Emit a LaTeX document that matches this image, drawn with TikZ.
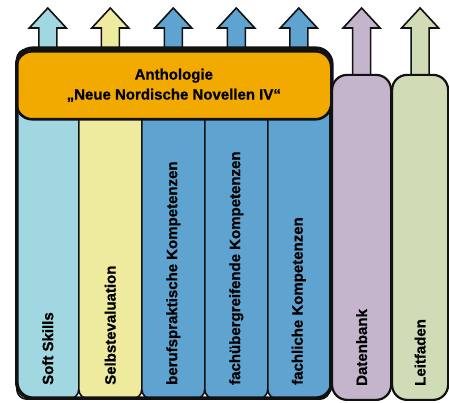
\documentclass[tikz,border=0pt]{standalone}
\usepackage{fontspec}
\setmainfont{Liberation Sans}[FakeBold=0.8]
\usepackage{xcolor}
\usetikzlibrary{positioning,calc,backgrounds}
\definecolor{ink}{HTML}{111111}
\definecolor{softfill}{HTML}{A0D7E0}
\definecolor{selbstfill}{HTML}{EEEA9E}
\definecolor{kompfill}{HTML}{5FA3D0}
\definecolor{anthfill}{HTML}{F3AA00}
\definecolor{datenfill}{HTML}{C4B4CC}
\definecolor{leitfill}{HTML}{CFDCB5}
\tikzset{
  col/.style={draw=ink, line width=1.6pt, rounded corners=10pt, inner sep=0pt, minimum height=350pt, anchor=south west},
  sidebox/.style={draw=ink, line width=2.2pt, rounded corners=15pt, inner sep=0pt, minimum height=325pt, anchor=south west},
  frame/.style={draw=ink, line width=3.6pt, rounded corners=16pt, inner sep=0pt, anchor=south west},
  header/.style={draw=ink, line width=2.6pt, rounded corners=16pt, fill=anthfill, align=center, inner sep=0pt, anchor=north west,
    font=\bfseries\fontsize{15}{20}\selectfont},
  vlabel/.style={rotate=90, anchor=west, inner sep=0pt, font=\bfseries\fontsize{15}{18}\selectfont},
  blockarrow/.style={draw=ink, line width=1.6pt, line join=miter}
}

\begin{document}
\begin{tikzpicture}[x=1pt,y=1pt]
\useasboundingbox (0,0) rectangle (449,403);
% columns of the anthology
\node[col, fill=softfill, minimum width=62pt] (soft) at (16,3) {};
\node[col, fill=selbstfill, minimum width=63pt] (selbst) at (78,3) {};
\node[col, fill=kompfill, minimum width=63pt] (beruf) at (141,3) {};
\node[col, fill=kompfill, minimum width=63pt] (fachueber) at (204,3) {};
\node[col, fill=kompfill, minimum width=62pt] (fachlich) at (267,3) {};
\node[header, minimum width=315pt, minimum height=68pt] (anth) at (15,353) {Anthologie\\„Neue Nordische Novellen IV“};
\node[frame, minimum width=315pt, minimum height=350pt] (rahmen) at (15,3) {};
% side boxes
\node[sidebox, fill=datenfill, minimum width=59pt] (daten) at (331,2) {};
\node[sidebox, fill=leitfill, minimum width=56pt] (leit) at (391,2) {};
% labels
\node[vlabel] (softlbl) at ($(soft.south)+(0,15)$) {Soft Skills};
\node[vlabel] (selbstlbl) at ($(selbst.south)+(0,15)$) {Selbstevaluation};
\node[vlabel] (berufidx) at ($(beruf.south)+(0,15)$) {berufspraktische Kompetenzen};
\node[vlabel] (fachueberlbl) at ($(fachueber.south)+(0,15)$) {fachübergreifende Kompetenzen};
\node[vlabel] (fachlichlbl) at ($(fachlich.south)+(0,15)$) {fachliche Kompetenzen};
\node[vlabel] (datenlbl) at ($(daten.south)+(0,15)$) {Datenbank};
\node[vlabel] (leitlbl) at ($(leit.south)+(0,15)$) {Leitfaden};
% arrows up
\begin{scope}[on background layer]
\foreach \nm/\c in {soft/softfill, selbst/selbstfill, beruf/kompfill, fachueber/kompfill, fachlich/kompfill, daten/datenfill, leit/leitfill}
  \draw[blockarrow, fill=\c] let \p1=(\nm.north) in
    (\x1-9pt,\y1-6pt) -- (\x1-9pt,375pt) -- (\x1-18.5pt,375pt) -- (\x1,395pt)
    -- (\x1+18.5pt,375pt) -- (\x1+9pt,375pt) -- (\x1+9pt,\y1-6pt);
\end{scope}
\end{tikzpicture}
\end{document}
